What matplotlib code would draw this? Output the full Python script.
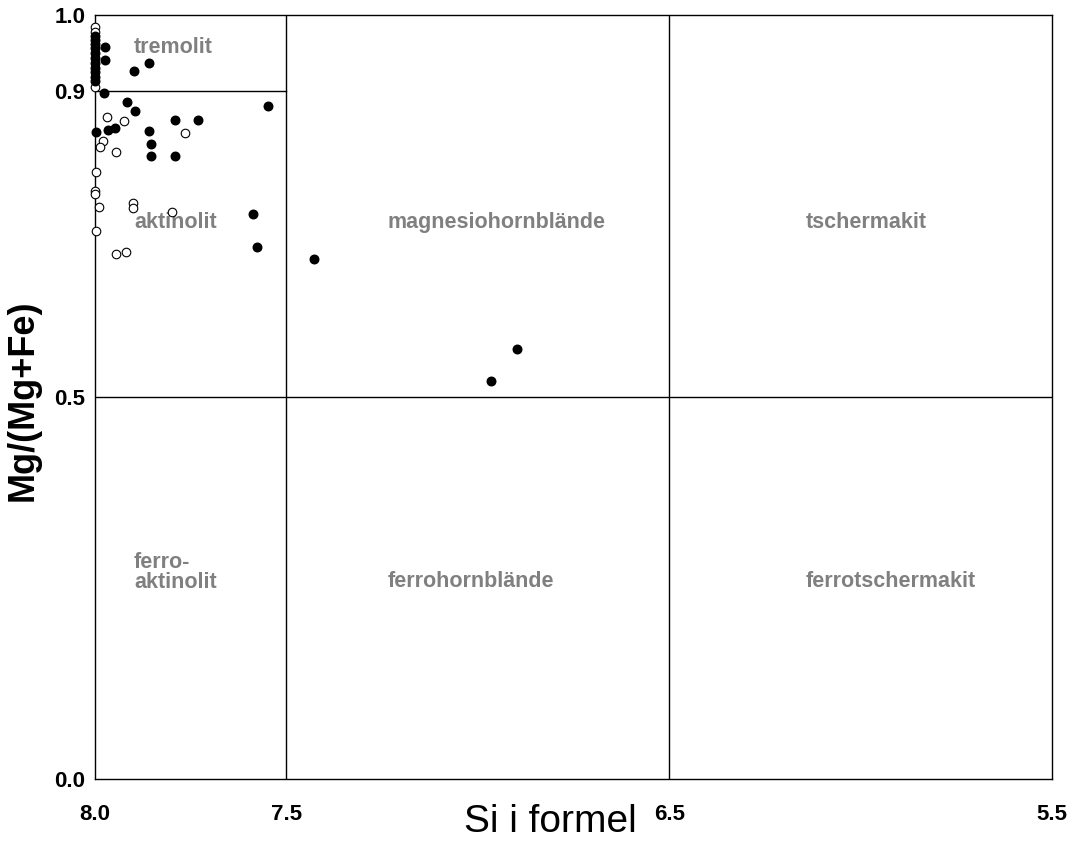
import matplotlib
matplotlib.use("Agg")
import matplotlib.pyplot as plt

# ---- data ----
filled_si = [8.0, 8.0, 8.0, 8.0, 8.0, 8.0, 8.0, 8.0, 8.0, 8.0, 8.0,
             7.974, 7.974, 7.898, 7.859, 7.976, 7.916, 7.896, 7.548, 7.791, 7.731,
             7.997, 7.966, 7.948, 7.859, 7.854, 7.854, 7.791, 7.587, 7.577, 7.428,
             6.898, 6.966]
filled_mg = [0.972, 0.967, 0.962, 0.957, 0.950, 0.944, 0.937, 0.931, 0.925, 0.919, 0.914,
             0.958, 0.941, 0.927, 0.937, 0.898, 0.886, 0.874, 0.881, 0.863, 0.863,
             0.847, 0.849, 0.852, 0.848, 0.831, 0.815, 0.815, 0.740, 0.696, 0.681,
             0.563, 0.521]

open_si = [8.0, 8.0, 8.0, 7.969, 7.924, 7.765, 7.979, 7.987, 7.945, 7.997,
           8.0, 8.0, 7.990, 7.901, 7.901, 7.799, 7.997, 7.945, 7.919]
open_mg = [0.984, 0.978, 0.906, 0.866, 0.861, 0.846, 0.835, 0.827, 0.821, 0.795,
           0.770, 0.766, 0.749, 0.754, 0.747, 0.742, 0.717, 0.687, 0.690]

x_ticks = [8.0, 7.5, 6.5, 5.5]
x_ticklabels = ["8.0", "7.5", "6.5", "5.5"]
y_ticks = [0.0, 0.5, 0.9, 1.0]
y_ticklabels = ["0.0", "0.5", "0.9", "1.0"]

field_labels = ["tremolit", "aktinolit", "magnesiohornblände", "tschermakit",
                "ferro-\naktinolit", "ferrohornblände", "ferrotschermakit"]
field_x = [7.898, 7.898, 7.235, 6.143, 7.898, 7.235, 6.143]
field_y = [0.958, 0.729, 0.729, 0.729, 0.2705, 0.258, 0.258]

plt.rcParams['font.family'] = ['Liberation Sans', 'DejaVu Sans']

fig = plt.figure(figsize=(10.77, 8.52), dpi=100)
ax = fig.add_axes([95/1077, 1 - 779/852, (1052-95)/1077, (779-15)/852])
ax.set_xlim(8.0, 5.5)
ax.set_ylim(0.0, 1.0)

# field boundaries
ax.axvline(7.5, color='black', lw=1.0)
ax.axvline(6.5, color='black', lw=1.0)
ax.axhline(0.5, color='black', lw=1.0)
ax.plot([8.0, 7.5], [0.9, 0.9], color='black', lw=1.0)

for t, x, y in zip(field_labels, field_x, field_y):
    ax.text(x, y, t, color='#808080', fontsize=15.5, fontweight='bold',
            ha='left', va='center', linespacing=0.92, multialignment='left')

ax.scatter(open_si, open_mg, s=38, facecolors='white', edgecolors='black',
           linewidths=0.8, clip_on=False, zorder=3)
ax.scatter(filled_si, filled_mg, s=38, color='black', clip_on=False, zorder=4)

ax.set_xticks(x_ticks)
ax.set_xticklabels(x_ticklabels, fontsize=16, fontweight='bold')
ax.set_yticks(y_ticks)
ax.set_yticklabels(y_ticklabels, fontsize=16, fontweight='bold')
ax.tick_params(axis='x', length=0, pad=18)
ax.tick_params(axis='y', length=0, pad=7)
for sp in ax.spines.values():
    sp.set_linewidth(1.0)

fig.text(550/1077, 1 - 822/852, "Si i formel", fontsize=28, ha='center', va='center')
fig.text(23/1077, 1 - 400/852, "Mg/(Mg+Fe)", fontsize=26, fontweight='bold',
         rotation=90, ha='center', va='center')

fig.savefig("out.png", dpi=100)
